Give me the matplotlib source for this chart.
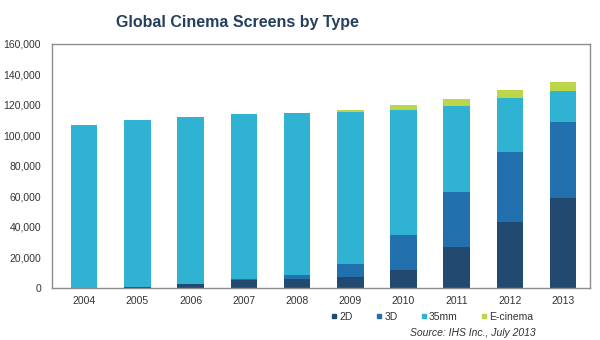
import numpy as np
import matplotlib
matplotlib.use("Agg")
import matplotlib.pyplot as plt
from matplotlib.lines import Line2D

plt.rcParams['font.family'] = ['Liberation Sans', 'DejaVu Sans']

# screens by type
years = ['2004', '2005', '2006', '2007', '2008', '2009', '2010', '2011', '2012', '2013']
d2 = [0, 500, 2500, 5000, 6000, 7000, 12000, 27000, 43000, 59000]
d3 = [0, 0, 300, 1000, 2500, 9000, 22500, 36000, 46000, 50000]
mm35 = [107000, 109500, 109200, 108000, 106500, 99600, 82200, 56000, 35400, 20400]
ecin = [0, 0, 0, 0, 0, 1200, 3000, 4600, 5400, 5300]

names = ['2D', '3D', '35mm', 'E-cinema']
colors = ['#22496f', '#2270ae', '#30b3d2', '#bcd64a']

fig = plt.figure(figsize=(6, 3.4), dpi=100)
ax = fig.add_axes([0.087, 0.153, 0.896, 0.718])

x = np.arange(len(years))
bottom = np.zeros(len(years))
for vals, c in zip([d2, d3, mm35, ecin], colors):
  ax.bar(x, vals, 0.5, bottom=bottom, color=c, linewidth=0)
  bottom += np.array(vals)

ax.set_xlim(-0.6, 9.5)
ax.set_ylim(0, 160000)
ax.set_yticks(np.arange(0, 160001, 20000))
ax.set_yticklabels([f'{v:,}' for v in range(0, 160001, 20000)])
ax.set_xticks(x)
ax.set_xticklabels(years)
ax.tick_params(length=0, labelsize=7.5, labelcolor='#333333')
ax.tick_params(axis='y', pad=8)
ax.tick_params(axis='x', pad=6)
for s in ax.spines.values():
  s.set_color('#8c8c8c')
  s.set_linewidth(1)

fig.text(0.395, 0.935, 'Global Cinema Screens by Type', ha='center', va='center',
         fontsize=11.5, fontweight='bold', color='#253f5e')

handles = [Line2D([], [], marker='s', linestyle='none', markersize=3.5,
                  markerfacecolor=c, markeredgecolor=c) for c in colors]
fig.legend(handles, names, loc='center', bbox_to_anchor=(0.72, 0.068), ncol=4,
           frameon=False, fontsize=7.5, handlelength=0.6, handletextpad=0.2,
           columnspacing=2.2, labelcolor='#333333')

fig.text(0.893, 0.022, 'Source: IHS Inc., July 2013', ha='right', va='center',
         fontsize=7.5, style='italic', color='#333333')

fig.savefig('out.png', dpi=100)
